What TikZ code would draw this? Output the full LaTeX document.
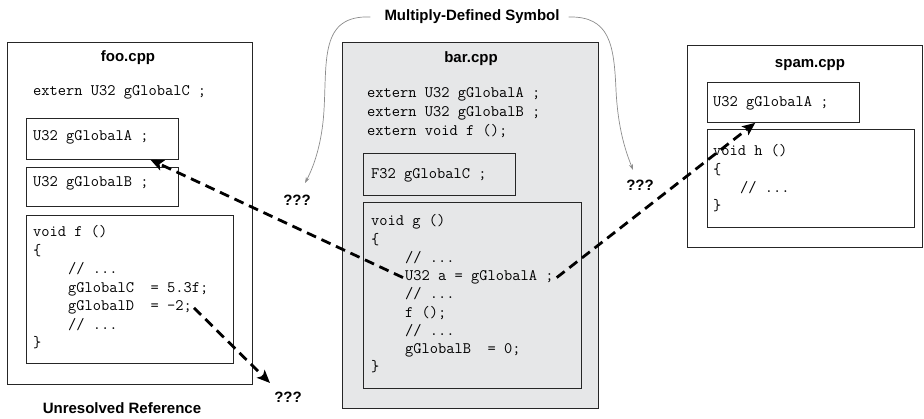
\documentclass[tikz,border=0pt]{standalone}
\usepackage{fontspec}
\setsansfont{Liberation Sans}
\usetikzlibrary{arrows.meta,calc}
\definecolor{barbg}{RGB}{230,231,232}
\begin{document}
\begin{tikzpicture}[x=1pt,y=-1pt,
 box/.style={draw=black!85,line width=0.8pt,anchor=north west,inner sep=0pt},
 code/.style={font=\ttfamily\fontsize{16}{16}\selectfont,anchor=base west,inner sep=0pt},
 ttl/.style={font=\sffamily\bfseries\fontsize{15}{15}\selectfont,inner sep=1pt},
 dasharrow/.style={line width=2.8pt,dash pattern=on 10pt off 6pt,-{Stealth[length=13pt,width=11pt,inset=3pt]}},
 grayarrow/.style={draw=black!45,line width=0.7pt,-{Stealth[length=6pt,width=4pt]}}]
\useasboundingbox (0,0) rectangle (924,419);
% boxes
\node[box,minimum width=245pt,minimum height=342pt] (foo) at (7,42) {};
\node[box,minimum width=152pt,minimum height=41pt] (fooA) at (26,118) {};
\node[box,minimum width=152pt,minimum height=39pt] (fooB) at (26,167) {};
\node[box,minimum width=207pt,minimum height=148pt] (fooF) at (26,215) {};
\node[box,fill=barbg,minimum width=256pt,minimum height=366pt] (bar) at (342,42) {};
\node[box,fill=barbg,minimum width=152pt,minimum height=42pt] (barC) at (363,153) {};
\node[box,fill=barbg,minimum width=218pt,minimum height=186pt] (barG) at (363,202) {};
\node[box,minimum width=235pt,minimum height=202pt] (spam) at (687,45) {};
\node[box,minimum width=152pt,minimum height=40pt] (spamA) at (707,82) {};
\node[box,minimum width=207pt,minimum height=98pt] (spamH) at (707,129) {};
% titles
\node[ttl] (tfoo) at (128,58) {foo.cpp};
\node[ttl] (tbar) at (471,59) {bar.cpp};
\node[ttl] (tspam) at (810,65) {spam.cpp};
\node[ttl] (mds) at (472,17) {Multiply-Defined Symbol};
\node[ttl] (ur) at (122,408) {Unresolved Reference};
\node[ttl] (q1) at (297,200) {???};
\node[ttl] (q2) at (640,185) {???};
\node[ttl] (q3) at (288,397) {???};
% foo code
\node[code] (f1) at (33,96) {extern U32 gGlobalC ;};
\node[code] (f2) at (33,141) {U32 gGlobalA ;};
\node[code] (f3) at (33,187) {U32 gGlobalB ;};
\node[code] (f4) at (33,237) {void f ()};
\node[code] (f5) at (33,255.5) {\{};
\node[code] (f6) at (68,274) {// ...};
\node[code] (f7) at (68,292.5) {gGlobalC~~= 5.3f;};
\node[code] (fD) at (68,311) {gGlobalD~~= -2;};
\node[code] (f9) at (68,329.5) {// ...};
\node[code] (f10) at (33,348) {\}};
% bar code
\node[code] (b1) at (367,98) {extern U32 gGlobalA ;};
\node[code] (b2) at (367,117) {extern U32 gGlobalB ;};
\node[code] (b3) at (367,136) {extern void f ();};
\node[code] (b4) at (371,179) {F32 gGlobalC ;};
\node[code] (g1) at (371,226) {void g ()};
\node[code] (g2) at (371,244.25) {\{};
\node[code] (g3) at (405,262.5) {// ...};
\node[code] (gA) at (405,280.75) {U32 a = gGlobalA ;};
\node[code] (g5) at (405,299) {// ...};
\node[code] (g6) at (405,317.25) {f ();};
\node[code] (g7) at (405,335.5) {// ...};
\node[code] (g8) at (405,353.75) {gGlobalB~~= 0;};
\node[code] (g9) at (371,372) {\}};
% spam code
\node[code] (s1) at (713,107) {U32 gGlobalA ;};
\node[code] (s2) at (713,156) {void h ()};
\node[code] (s3) at (713,174.3) {\{};
\node[code] (s4) at (740,192.6) {// ...};
\node[code] (s5) at (713,211) {\}};
% connectors
\coordinate (t3) at (270,383);
\coordinate (c1) at (305,183);
\coordinate (c2) at (633,170);
\draw[dasharrow] ([xshift=-2pt]gA.west) -- ($(fooA.south west)!0.815!(fooA.south east)$);
\draw[dasharrow] ([xshift=3pt]gA.east) -- ($(spamA.south west)!0.316!(spamA.south east)$);
\draw[dasharrow] ([xshift=2pt]fD.east) -- (t3);
\draw[grayarrow] ([xshift=-13pt]mds.west) .. controls (320,15) and (327,60) .. (324,110) .. controls (322,145) and (313,168) .. (c1);
\draw[grayarrow] ([xshift=8pt]mds.east) .. controls (610,16) and (614,45) .. (616,90) .. controls (618,130) and (626,152) .. (c2);
\end{tikzpicture}
\end{document}
